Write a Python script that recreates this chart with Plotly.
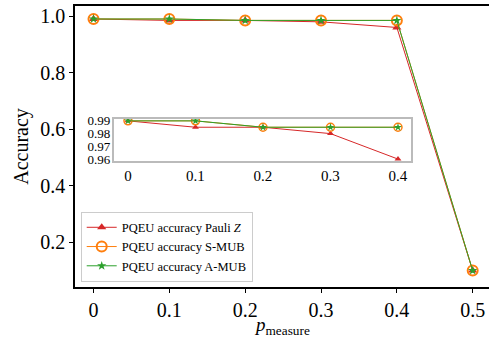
import plotly.graph_objects as go

p_measure = [0, 0.1, 0.2, 0.3, 0.4, 0.5]
acc_pauli_z = [0.99, 0.985, 0.985, 0.980, 0.960, 0.10]
acc_s_mub = [0.99, 0.99, 0.985, 0.985, 0.985, 0.10]
acc_a_mub = [0.99, 0.99, 0.985, 0.985, 0.985, 0.10]
names = ["PQEU accuracy Pauli <i>Z</i>", "PQEU accuracy S-MUB", "PQEU accuracy A-MUB"]
main_ticks = [0.2, 0.4, 0.6, 0.8, 1.0]
inset_ticks = [0.96, 0.97, 0.98, 0.99]

RED, ORANGE, GREEN = "#d62728", "#ff7f0e", "#2ca02c"
FONT = "Liberation Serif"

fig = go.Figure()

series = [
    (acc_pauli_z, RED, dict(symbol="triangle-up", size=8, color=RED), dict(symbol="triangle-up", size=6, color=RED)),
    (acc_s_mub, ORANGE, dict(symbol="circle-open", size=10, color=ORANGE, line=dict(width=2, color=ORANGE)),
     dict(symbol="circle-open", size=8, color=ORANGE, line=dict(width=1.5, color=ORANGE))),
    (acc_a_mub, GREEN, dict(symbol="star", size=7, color=GREEN, line=dict(width=0)),
     dict(symbol="star", size=6, color=GREEN, line=dict(width=0))),
]

for (vals, col, mk, mk_in), nm in zip(series, names):
    fig.add_trace(go.Scatter(x=p_measure, y=vals, mode="lines+markers", name=nm,
                             line=dict(color=col, width=1), marker=mk,
                             xaxis="x", yaxis="y", showlegend=True))
for (vals, col, mk, mk_in), nm in zip(series, names):
    fig.add_trace(go.Scatter(x=p_measure[:5], y=vals[:5], mode="lines+markers", name=nm,
                             line=dict(color=col, width=1), marker=mk_in,
                             xaxis="x2", yaxis="y2", showlegend=False))

fig.add_annotation(text="<i>p</i><sub>measure</sub>", xref="paper", yref="paper",
                   x=0.5, y=-0.09, xanchor="center", yanchor="top", showarrow=False,
                   font=dict(family=FONT, size=19, color="black"))

fig.update_layout(
    width=489, height=347,
    margin=dict(l=75, r=0, t=6, b=60),
    paper_bgcolor="white", plot_bgcolor="white",
    font=dict(family=FONT, color="black", size=20),
    showlegend=True,
    legend=dict(x=0.0138, y=0.019, xanchor="left", yanchor="bottom",
                bgcolor="rgba(255,255,255,0.9)", bordercolor="#cccccc", borderwidth=1,
                font=dict(family=FONT, size=12.5, color="black"),
                tracegroupgap=0, itemwidth=30),
    xaxis=dict(range=[-0.0244, 0.5215], tickvals=p_measure,
               ticktext=["0", "0.1", "0.2", "0.3", "0.4", "0.5"],
               showline=True, linecolor="black", linewidth=1.5, mirror=True,
               ticks="outside", ticklen=4, tickwidth=1, tickcolor="black",
               showgrid=False, zeroline=False,
               tickfont=dict(family=FONT, size=20)),
    yaxis=dict(range=[0.042, 1.036], tickvals=main_ticks,
               ticktext=["0.2", "0.4", "0.6", "0.8", "1.0"],
               showline=True, linecolor="black", linewidth=1.5,
               ticks="outside", ticklen=4, tickwidth=1, tickcolor="black",
               showgrid=False, zeroline=False,
               tickfont=dict(family=FONT, size=20),
               title=dict(text="Accuracy", font=dict(family=FONT, size=20), standoff=6)),
    xaxis2=dict(domain=[0.0954, 0.8128], anchor="y2", range=[-0.02, 0.42],
                tickvals=p_measure[:5], ticktext=["0", "0.1", "0.2", "0.3", "0.4"],
                showline=True, linecolor="#bbbbbb", linewidth=1.5, mirror=True,
                ticks="", showgrid=False, zeroline=False,
                tickfont=dict(family=FONT, size=15)),
    yaxis2=dict(domain=[0.4484, 0.598], anchor="x2", range=[0.9585, 0.9915],
                tickvals=inset_ticks, ticktext=["0.96", "0.97", "0.98", "0.99"],
                showline=True, linecolor="#bbbbbb", linewidth=1.5, mirror=True,
                ticks="", showgrid=False, zeroline=False,
                tickfont=dict(family=FONT, size=13)),
)

fig.write_html("out.html")
